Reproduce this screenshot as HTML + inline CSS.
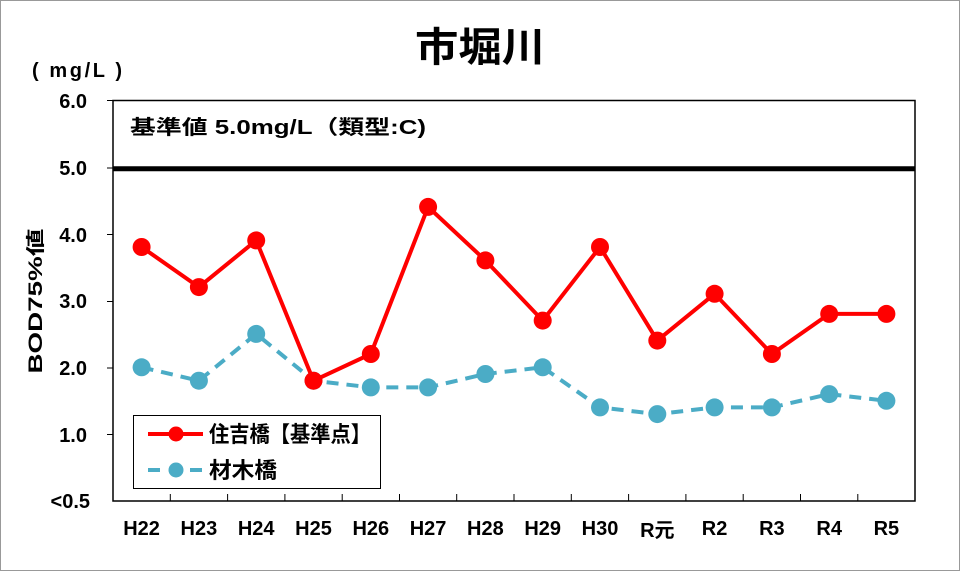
<!DOCTYPE html>
<html><head><meta charset="utf-8"><style>
html,body{margin:0;padding:0;background:#fff}
svg{display:block}
text{font-family:"Liberation Sans","Noto Sans CJK JP",sans-serif;font-weight:bold;fill:#000}
</style></head><body>
<svg width="960" height="571" viewBox="0 0 960 571" xmlns="http://www.w3.org/2000/svg">
<rect x="0.5" y="0.5" width="959" height="570" fill="#fff" stroke="#999" stroke-width="1"/>
<text x="480" y="61" font-size="40" text-anchor="middle" textLength="130" lengthAdjust="spacingAndGlyphs">市堀川</text>
<text x="32" y="77" font-size="20" textLength="90" lengthAdjust="spacing">( mg/L )</text>
<rect x="113" y="100.5" width="802" height="400.5" fill="none" stroke="#000" stroke-width="1.5"/>
<line x1="113" y1="168.8" x2="915" y2="168.8" stroke="#000" stroke-width="5"/>
<text x="130" y="134" font-size="20" textLength="296" lengthAdjust="spacingAndGlyphs">基準値 5.0mg/L（類型:C)</text>
<g font-size="20" text-anchor="end">
<text x="87" y="108">6.0</text>
<text x="87" y="175">5.0</text>
<text x="87" y="242">4.0</text>
<text x="87" y="308">3.0</text>
<text x="87" y="375">2.0</text>
<text x="87" y="442">1.0</text>
<text x="90" y="508">&lt;0.5</text>
</g>
<g stroke="#000" stroke-width="1">
<line x1="107" y1="100.5" x2="113" y2="100.5"/><line x1="107" y1="168" x2="113" y2="168"/>
<line x1="107" y1="234.5" x2="113" y2="234.5"/><line x1="107" y1="301.5" x2="113" y2="301.5"/>
<line x1="107" y1="368" x2="113" y2="368"/><line x1="107" y1="434.5" x2="113" y2="434.5"/>
<line x1="170.3" y1="494" x2="170.3" y2="501"/><line x1="227.6" y1="494" x2="227.6" y2="501"/>
<line x1="284.9" y1="494" x2="284.9" y2="501"/><line x1="342.2" y1="494" x2="342.2" y2="501"/>
<line x1="399.5" y1="494" x2="399.5" y2="501"/><line x1="456.7" y1="494" x2="456.7" y2="501"/>
<line x1="514" y1="494" x2="514" y2="501"/><line x1="571.3" y1="494" x2="571.3" y2="501"/>
<line x1="628.6" y1="494" x2="628.6" y2="501"/><line x1="685.9" y1="494" x2="685.9" y2="501"/>
<line x1="743.2" y1="494" x2="743.2" y2="501"/><line x1="800.5" y1="494" x2="800.5" y2="501"/>
<line x1="857.8" y1="494" x2="857.8" y2="501"/>
</g>
<text x="42" y="301" font-size="19" text-anchor="middle" transform="rotate(-90 42 301)" textLength="145" lengthAdjust="spacingAndGlyphs">BOD75%値</text>
<g font-size="20" text-anchor="middle">
<text x="141.6" y="535">H22</text><text x="198.9" y="535">H23</text><text x="256.2" y="535">H24</text>
<text x="313.5" y="535">H25</text><text x="370.8" y="535">H26</text><text x="428.1" y="535">H27</text>
<text x="485.4" y="535">H28</text><text x="542.7" y="535">H29</text><text x="600" y="535">H30</text>
<text x="657.3" y="537">R元</text><text x="714.6" y="535">R2</text><text x="771.9" y="535">R3</text>
<text x="829.2" y="535">R4</text><text x="886.4" y="535">R5</text>
</g>
<g fill="#4bacc6">
<polyline fill="none" stroke="#4bacc6" stroke-width="4" stroke-dasharray="12,8" points="141.6,367.3 198.9,380.7 256.2,333.9 313.5,380.7 370.8,387.4 428.1,387.4 485.4,374 542.7,367.3 600,407.4 657.3,414.1 714.6,407.4 771.9,407.4 829.2,394.1 886.4,400.8"/>
<circle cx="141.6" cy="367.3" r="9"/><circle cx="198.9" cy="380.7" r="9"/><circle cx="256.2" cy="333.9" r="9"/>
<circle cx="313.5" cy="380.7" r="9"/><circle cx="370.8" cy="387.4" r="9"/><circle cx="428.1" cy="387.4" r="9"/>
<circle cx="485.4" cy="374" r="9"/><circle cx="542.7" cy="367.3" r="9"/><circle cx="600" cy="407.4" r="9"/>
<circle cx="657.3" cy="414.1" r="9"/><circle cx="714.6" cy="407.4" r="9"/><circle cx="771.9" cy="407.4" r="9"/>
<circle cx="829.2" cy="394.1" r="9"/><circle cx="886.4" cy="400.8" r="9"/>
</g>
<g fill="#ff0000">
<polyline fill="none" stroke="#ff0000" stroke-width="4" points="141.6,247 198.9,287.1 256.2,240.4 313.5,380.7 370.8,354 428.1,206.9 485.4,260.4 542.7,320.6 600,247 657.3,340.6 714.6,293.8 771.9,354 829.2,313.9 886.4,313.9"/>
<circle cx="141.6" cy="247" r="9"/><circle cx="198.9" cy="287.1" r="9"/><circle cx="256.2" cy="240.4" r="9"/>
<circle cx="313.5" cy="380.7" r="9"/><circle cx="370.8" cy="354" r="9"/><circle cx="428.1" cy="206.9" r="9"/>
<circle cx="485.4" cy="260.4" r="9"/><circle cx="542.7" cy="320.6" r="9"/><circle cx="600" cy="247" r="9"/>
<circle cx="657.3" cy="340.6" r="9"/><circle cx="714.6" cy="293.8" r="9"/><circle cx="771.9" cy="354" r="9"/>
<circle cx="829.2" cy="313.9" r="9"/><circle cx="886.4" cy="313.9" r="9"/>
</g>
<rect x="133.5" y="415.5" width="247" height="73" fill="#fff" stroke="#000" stroke-width="1"/>
<line x1="148" y1="434" x2="203" y2="434" stroke="#ff0000" stroke-width="4"/>
<circle cx="176" cy="434" r="7.5" fill="#ff0000"/>
<text x="209" y="442" font-size="22" textLength="162" lengthAdjust="spacingAndGlyphs">住吉橋【基準点】</text>
<line x1="148" y1="470" x2="203" y2="470" stroke="#4bacc6" stroke-width="4" stroke-dasharray="12,9"/>
<circle cx="176" cy="470" r="7.5" fill="#4bacc6"/>
<text x="209" y="478" font-size="22" textLength="68" lengthAdjust="spacingAndGlyphs">材木橋</text>
</svg>
</body></html>
